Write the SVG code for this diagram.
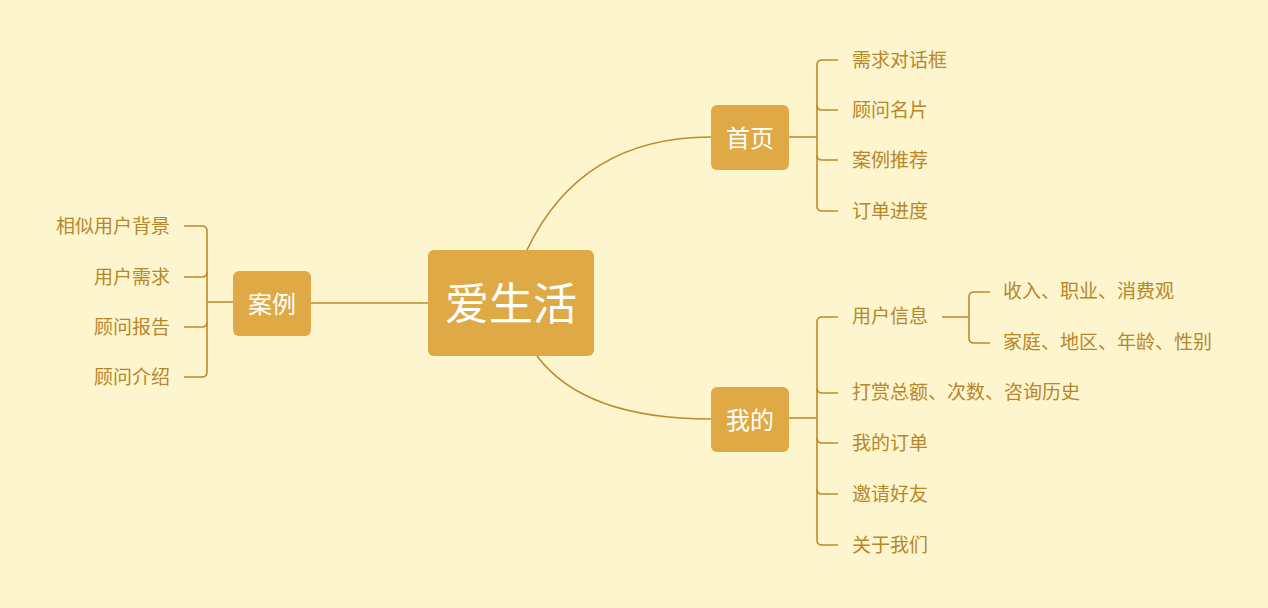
<svg xmlns="http://www.w3.org/2000/svg" width="1268" height="608" viewBox="0 0 1268 608">
<style>
.bg{fill:#FCF5CD}
.node{fill:#DFAA45}
.ntx{fill:#FFFFFF;font-family:"Noto Sans CJK SC","Noto Sans",sans-serif;text-anchor:middle;dominant-baseline:central}
.leaf{fill:#B8862B;font-family:"Noto Sans CJK SC","Noto Sans",sans-serif;font-size:19px;dominant-baseline:central}
.ln{fill:none;stroke:#BF8A2C;stroke-width:1.6}
</style>
<rect class="bg" x="0" y="0" width="1268" height="608"/>
<g id="connectors">
<path class="ln" d="M527,250 C565,170 630,137 711,137"/>
<path class="ln" d="M537,356 C570,400 630,419 711,419"/>
<path class="ln" d="M311,303 H428"/>
<path class="ln" d="M789,137 H817"/>
<path class="ln" d="M838,60 H822 Q817,60 817,65 V206 Q817,211 822,211 H838"/>
<path class="ln" d="M817,105 Q817,110 822,110 H838 M817,155 Q817,160 822,160 H838"/>
<path class="ln" d="M789,418 H817"/>
<path class="ln" d="M838,317 H822 Q817,317 817,322 V540 Q817,545 822,545 H838"/>
<path class="ln" d="M817,388 Q817,393 822,393 H838 M817,438 Q817,443 822,443 H838 M817,489 Q817,494 822,494 H838"/>
<path class="ln" d="M942,317 H969"/>
<path class="ln" d="M990,292 H974 Q969,292 969,297 V338 Q969,343 974,343 H990"/>
<path class="ln" d="M233,302 H207"/>
<path class="ln" d="M184,226 H202 Q207,226 207,231 V372 Q207,377 202,377 H184"/>
<path class="ln" d="M207,272 Q207,277 202,277 H184 M207,322 Q207,327 202,327 H184"/>
</g>
<g id="center">
<rect class="node" x="428" y="250" width="166" height="106" rx="6"/>
<text class="ntx" x="511" y="301" font-size="44">爱生活</text>
</g>
<g id="shouye">
<rect class="node" x="711" y="105" width="78" height="65" rx="6"/>
<text class="ntx" x="750" y="136" font-size="24">首页</text>
</g>
<g id="wode">
<rect class="node" x="711" y="387" width="78" height="65" rx="6"/>
<text class="ntx" x="750" y="418" font-size="24">我的</text>
</g>
<g id="anli">
<rect class="node" x="233" y="271" width="78" height="65" rx="6"/>
<text class="ntx" x="272" y="302" font-size="24">案例</text>
</g>
<g id="shouye-leaves">
<text class="leaf" x="852" y="58">需求对话框</text>
<text class="leaf" x="852" y="108">顾问名片</text>
<text class="leaf" x="852" y="158">案例推荐</text>
<text class="leaf" x="852" y="209">订单进度</text>
</g>
<g id="wode-leaves">
<text class="leaf" x="852" y="314">用户信息</text>
<text class="leaf" x="852" y="390">打赏总额、次数、咨询历史</text>
<text class="leaf" x="852" y="441">我的订单</text>
<text class="leaf" x="852" y="492">邀请好友</text>
<text class="leaf" x="852" y="543">关于我们</text>
</g>
<g id="yonghu-leaves">
<text class="leaf" x="1003" y="289">收入、职业、消费观</text>
<text class="leaf" x="1003" y="340">家庭、地区、年龄、性别</text>
</g>
<g id="anli-leaves">
<text class="leaf" x="170" y="224" text-anchor="end">相似用户背景</text>
<text class="leaf" x="170" y="275" text-anchor="end">用户需求</text>
<text class="leaf" x="170" y="325" text-anchor="end">顾问报告</text>
<text class="leaf" x="170" y="375" text-anchor="end">顾问介绍</text>
</g>
</svg>
